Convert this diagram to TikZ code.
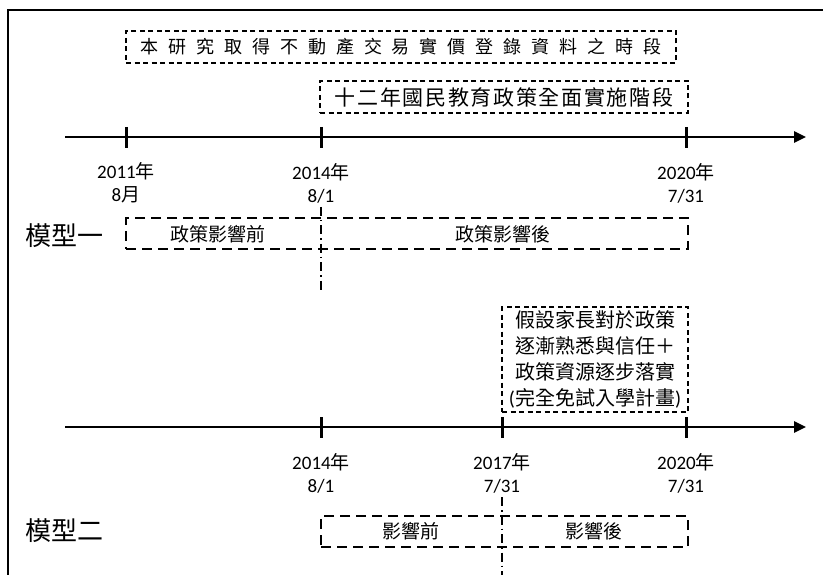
\documentclass[tikz,border=0pt]{standalone}
\usepackage{fontspec}
\setmainfont{Noto Sans CJK TC}
\newfontfamily\latfont{Carlito}
\usetikzlibrary{positioning,arrows.meta}

\begin{document}
\begin{tikzpicture}[
        x=1pt, y=-1pt,
        frameln/.style={line width=2pt},
        axisln/.style={line width=2.5pt, -{Triangle[length=12pt,width=11pt]}},
        tickln/.style={line width=3pt},
        spanbox/.style={draw, rectangle, line width=1.3pt,
                        dash pattern=on 5pt off 3.5pt, inner sep=0pt},
        modelbox/.style={draw, rectangle, line width=1.3pt,
                         dash pattern=on 10pt off 6pt, inner sep=0pt},
        divline/.style={line width=1.3pt,
                        dash pattern=on 9pt off 4pt on 1.5pt off 4pt},
        datelbl/.style={align=center, inner sep=0pt,
                        font=\fontsize{19}{23}\selectfont},
        phase/.style={inner sep=0pt, font=\fontsize{19}{23}\selectfont},
        model/.style={inner sep=0pt, font=\fontsize{26}{30}\selectfont}
    ]
    \useasboundingbox (0,0) rectangle (823,575);
    \draw[frameln] (8,575) -- (8,10) -- (823,10);

    % upper period boxes
    \node[spanbox, minimum width=550pt, minimum height=32pt] (data) at (401,47)
        {\fontsize{18}{20}\selectfont\addfontfeature{LetterSpace=55}本研究取得不動產交易實價登錄資料之時段};
    \node[spanbox, minimum width=368pt, minimum height=32pt] (policy) at (504,97)
        {\fontsize{21}{23}\selectfont\addfontfeature{LetterSpace=8}十二年國民教育政策全面實施階段};

    % timeline 1
    \coordinate (ax1s) at (65,137);
    \coordinate (ax1e) at (806,137);
    \coordinate (a1) at (126,137);
    \coordinate (a2) at (321,137);
    \coordinate (a3) at (686,137);
    \draw[axisln] (ax1s) -- (ax1e);
    \foreach \t in {a1,a2,a3}
        \draw[tickln] ([yshift=10pt]\t) -- ([yshift=-11pt]\t);

    \node[datelbl] (la1) at (126,183) {{\latfont 2011}年\\{\latfont 8}月};
    \node[datelbl] (la2) at (321,183) {{\latfont 2014}年\\{\latfont 8/1}};
    \node[datelbl] (la3) at (686,183) {{\latfont 2020}年\\{\latfont 7/31}};

    % model 1
    \node[model] (m1) at (65,236) {模型一};
    \node[modelbox, minimum width=562pt, minimum height=31pt] (m1box) at (407,233.5) {};
    \node[phase] (m1pre)  at (218,234) {政策影響前};
    \node[phase] (m1post) at (503,234) {政策影響後};
    \coordinate (d1s) at (321,207);
    \coordinate (d1e) at (321,292);
    \draw[divline] (d1s) -- (d1e);

    % assumption box
    \node[spanbox, minimum width=186pt, minimum height=105pt, align=center,
          font=\fontsize{20}{26}\selectfont] (assume) at (595,359.5)
        {假設家長對於政策\\逐漸熟悉與信任＋\\政策資源逐步落實\\{\latfont(}完全免試入學計畫{\latfont)}};

    % timeline 2
    \coordinate (ax2s) at (65,427);
    \coordinate (ax2e) at (806,427);
    \coordinate (b1) at (321,427);
    \coordinate (b2) at (502,427);
    \coordinate (b3) at (686,427);
    \draw[axisln] (ax2s) -- (ax2e);
    \foreach \t in {b1,b2,b3}
        \draw[tickln] ([yshift=10pt]\t) -- ([yshift=-11pt]\t);

    \node[datelbl] (lb1) at (321,473) {{\latfont 2014}年\\{\latfont 8/1}};
    \node[datelbl] (lb2) at (502,473) {{\latfont 2017}年\\{\latfont 7/31}};
    \node[datelbl] (lb3) at (686,473) {{\latfont 2020}年\\{\latfont 7/31}};

    % model 2
    \node[model] (m2) at (65,531) {模型二};
    \node[modelbox, minimum width=367pt, minimum height=31pt] (m2box) at (504.5,531.5) {};
    \node[phase] (m2pre)  at (411,531) {影響前};
    \node[phase] (m2post) at (594,531) {影響後};
    \coordinate (d2s) at (502,497);
    \coordinate (d2e) at (502,575);
    \draw[divline] (d2s) -- (d2e);
\end{tikzpicture}
\end{document}
